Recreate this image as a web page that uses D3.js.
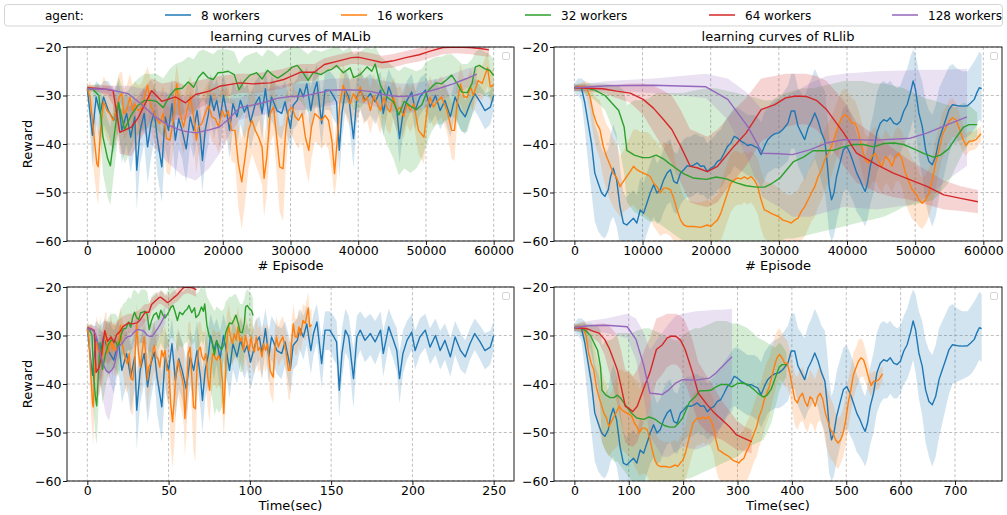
<!DOCTYPE html>
<html><head><meta charset="utf-8">
<script src="https://cdn.jsdelivr.net/npm/d3@7"></script>
<style>
body{margin:0;background:#fff;}
svg{display:block;font-family:"DejaVu Sans",sans-serif;}
</style></head><body>
<svg id="chart" width="1007" height="515"></svg>
<script>
// ---------------- DATA ----------------
const seriesNames = ["8 workers","16 workers","32 workers","64 workers","128 workers"];
const seriesColors = ["#1f77b4","#ff7f0e","#2ca02c","#d62728","#9467bd"];
const episodeTicks = [0,10000,20000,30000,40000,50000,60000];
const malibTimeTicks = [0,50,100,150,200,250];
const rllibTimeTicks = [0,100,200,300,400,500,600,700];
const rewardTicks = [-60,-50,-40,-30,-20];
// wall-clock seconds at which each run reached its last logged episode
const malibSeconds = [250,138,102,67,48];
const rllibSeconds = [749,567,390,326,290];

// tuples: [episode, mean reward, band low, band high]
const malib8 = [[0,-28.6,-29.5,-28],[750,-38.2,-45,-30],[1300,-30.3,-36,-27],[1900,-33.7,-40,-28],[2400,-30.3,-36,-27],[3100,-33.1,-38,-27],[3900,-35.1,-42,-29],[4600,-31.3,-37,-27],[5100,-37.2,-44,-31],[5800,-33.7,-40,-29],[6400,-38.6,-46,-32],[7000,-34.4,-41,-29],[7300,-45.4,-53.5,-38],[7800,-37.2,-44,-31],[8400,-33.7,-40,-28],[8900,-40.6,-48,-34],[9400,-35.8,-43,-30],[9900,-33.4,-39,-27.5],[10300,-38.6,-46,-32],[11000,-44.7,-52,-38],[11500,-34.4,-41,-29],[12000,-37.2,-44,-31],[12500,-31.7,-38,-26.5],[13000,-39.2,-47,-33],[13500,-34.8,-41,-29],[14000,-37.2,-43,-31],[14600,-41,-48,-35],[15200,-34.4,-40,-29],[15700,-37.2,-43,-31],[16200,-33.1,-39,-27],[16700,-38.6,-45,-33],[17000,-43.4,-50,-37],[17400,-37.2,-43,-31],[17900,-33.7,-40,-28],[18200,-30,-35,-25.5],[18700,-33.1,-39,-28],[19100,-31,-36,-26.5],[19600,-34.8,-41,-29],[20100,-30,-35,-25.5],[20600,-33.7,-39,-28.5],[21000,-37.2,-43,-31.5],[21500,-31.7,-37,-27],[22100,-34.4,-40,-29],[22600,-31,-36,-26.5],[23200,-33.4,-39,-28.5],[23600,-32,-37,-27.5],[24100,-35.5,-41,-30],[24800,-31.7,-37,-27],[25400,-30.3,-35,-26],[25800,-33.7,-39,-28.5],[26300,-28.6,-33,-24.5],[26800,-34.4,-40,-29],[27200,-30.3,-35,-26],[28000,-33.1,-38,-28],[28700,-33.7,-39,-28.5],[29200,-31.3,-36,-27],[30000,-36.8,-42,-31.5],[30400,-32,-37,-27.5],[31000,-31,-36,-26.5],[31400,-28.6,-33,-24.5],[31900,-30.3,-35,-26],[32400,-27.6,-32,-24],[33000,-33.1,-38,-28.5],[33400,-29.6,-34,-25.5],[33900,-27.2,-31.5,-23.5],[34600,-35.8,-41,-30.5],[35100,-28.9,-33,-25],[35800,-28.9,-33,-25],[36400,-30.3,-35,-26],[36800,-31.3,-36,-27],[37200,-41.3,-47,-35.5],[37600,-33.7,-39,-28.5],[38100,-28.9,-33.5,-24.5],[38600,-30.3,-35,-26],[39300,-38.9,-45,-33],[39800,-30.3,-35,-26],[40300,-28.9,-33,-25],[41000,-31,-35.5,-26.5],[41800,-29.6,-34,-25.5],[42500,-31.3,-36,-27],[43300,-28.9,-33,-25],[43700,-33.7,-38.5,-29],[44500,-28.2,-32,-24.5],[45200,-31,-35,-27],[45700,-33.1,-37.5,-28.5],[46100,-38.9,-44,-33.5],[46600,-33.7,-38,-29],[47200,-31,-35,-27],[47900,-29.3,-33,-25.5],[48400,-33.1,-37,-29],[49100,-30.3,-34,-26.5],[49900,-28.9,-32.5,-25.5],[50600,-32.4,-36,-28.5],[51400,-30,-34,-26.5],[52100,-33.1,-37,-29],[52800,-31,-35,-27.5],[53600,-34.4,-38.5,-30.5],[54300,-30.3,-34,-27],[55100,-33.1,-37,-29.5],[55800,-34.4,-38,-31],[56500,-31.7,-35,-28.5],[57200,-29.6,-33,-26.5],[58000,-31.3,-35,-28],[58700,-33.1,-37,-29.5],[59500,-32.4,-36,-29],[60000,-30,-33,-27]];
const malib16 = [[0,-28.6,-29.3,-28],[400,-30.3,-34,-27],[900,-37.2,-45,-30],[1400,-44,-51,-37],[1600,-44.7,-52.5,-37.5],[1950,-37.2,-44,-30],[2400,-31.3,-37,-26],[2900,-33.1,-39,-27.5],[3300,-33.7,-40,-28],[3800,-35.1,-41,-29.5],[4300,-33.1,-39,-27.5],[4700,-30.3,-36,-25.5],[5100,-29.6,-35,-25],[5400,-33.7,-39,-28.5],[5800,-33.1,-38.5,-28],[6300,-30.3,-35.5,-25.5],[6700,-33.1,-38.5,-28],[7000,-31.7,-37,-27],[7500,-33.1,-38.5,-28],[8000,-32.7,-38,-27.5],[8500,-30,-35,-25.5],[8900,-27.9,-32,-24],[9300,-31.7,-37,-26.5],[9800,-33.4,-39,-28],[10200,-34.8,-41,-29],[10700,-35.8,-42,-30],[11200,-33.7,-40,-28],[11700,-38.9,-46,-32],[12200,-39.2,-46.5,-32.5],[12700,-35.1,-41,-29.5],[13200,-27.6,-32,-23.5],[13700,-33.7,-39,-28.5],[14200,-36.5,-42,-31],[14700,-33.1,-38.5,-28],[15200,-30.3,-35,-26],[15700,-34.4,-40,-29],[16100,-39.2,-46,-33],[16400,-36.5,-42.5,-30.5],[16900,-35.8,-41,-30.5],[17400,-33.7,-39,-28.5],[17900,-32,-37,-27],[18400,-34.4,-39.5,-29.5],[18900,-34.8,-40,-29.5],[19400,-36.5,-42,-31],[19900,-33.1,-38.5,-28],[20300,-34.4,-40,-29],[20800,-33.1,-38.5,-28],[21300,-37.2,-43.5,-31],[21800,-37.2,-44,-31],[22300,-44,-53,-36],[22800,-47.8,-57.5,-39],[23300,-42.7,-52,-34.5],[23800,-37.2,-45,-30],[24300,-35.1,-42,-28.5],[24800,-37.2,-44,-30.5],[25300,-38.6,-46,-31.5],[25800,-40.6,-48.5,-33],[26100,-47.1,-55,-39.5],[26500,-42.7,-50.5,-35],[27000,-33.7,-40,-27.5],[27500,-32.4,-38,-27],[28000,-39.2,-47,-32],[28400,-44.7,-54,-36.5],[28900,-45.1,-56,-36],[29300,-37.2,-45,-30],[29700,-33.1,-39,-27.5],[30200,-32.4,-38,-27],[30700,-34.4,-40,-29],[31200,-35.1,-41,-29.5],[31700,-33.7,-39.5,-28.5],[32200,-38.6,-45,-32.5],[32700,-41.3,-48,-35],[33100,-36.5,-43,-30.5],[33600,-33.7,-39.5,-28.5],[34100,-34.4,-40,-29],[34600,-35.1,-41,-29.5],[35100,-34.1,-40,-29],[35600,-35.1,-41,-29.5],[36100,-39.2,-46,-33],[36500,-46.1,-51,-40],[36900,-39.2,-46,-32.5],[37300,-31.3,-37,-26],[37800,-27.9,-32.5,-23.5],[38300,-30.3,-35,-26],[38800,-31.7,-36.5,-27],[39300,-29.6,-34,-25.5],[39800,-31,-35.5,-26.5],[40300,-28.2,-32.5,-24],[40800,-31.3,-36,-27],[41300,-30.3,-35,-26],[41800,-33.1,-38,-28.5],[42300,-30,-34.5,-25.5],[42800,-31.7,-36,-27.5],[43300,-33.1,-38,-28.5],[43800,-30.3,-34.5,-26],[44200,-32.4,-37,-28],[44700,-33.4,-38,-29],[45200,-30.3,-34.5,-26],[45700,-33.1,-37.5,-28.5],[46200,-32.4,-37,-28],[46700,-34.4,-39,-30],[47200,-31.7,-36,-27.5],[47700,-33.1,-37.5,-28.5],[48200,-31.7,-36,-27.5],[48900,-37.2,-42,-32],[49700,-38.6,-44,-33],[50200,-32.7,-37,-28.5],[50600,-30.3,-34.5,-26],[51100,-32.4,-36.5,-28],[51600,-31.3,-35.5,-27],[52300,-30.3,-34.5,-26],[53100,-33.1,-37.5,-29],[53800,-37.2,-43,-31.5],[54200,-37.2,-43.5,-31],[54600,-31.7,-36,-27.5],[55100,-27.6,-31.5,-23.5],[55600,-30.3,-34,-26.5],[56100,-30.3,-34,-26.5],[56600,-28.2,-32,-24.5],[57000,-30,-33.5,-26.5],[57700,-26.9,-30.5,-23.5],[58300,-27.5,-31,-24],[59100,-24.3,-28,-21],[59500,-28.2,-31.5,-25],[60000,-27.8,-31,-24.5]];
const malib32 = [[0,-28.5,-29,-28],[800,-28.7,-29.8,-27.8],[1700,-30,-33.5,-27.5],[2300,-38.5,-46,-31],[3000,-43,-51,-35],[3400,-44.5,-52.5,-36.5],[4600,-31.5,-38,-26],[5500,-37,-44,-30],[6500,-34,-41,-28],[7500,-32,-38,-26.5],[8500,-31,-37,-25.5],[9500,-31,-36.5,-25.5],[10200,-31.2,-37,-25.5],[11200,-32.5,-38.5,-26.5],[12200,-30,-36,-24.5],[13000,-28.7,-34,-23.5],[14000,-28.5,-34,-23],[14900,-27.2,-33,-22],[15700,-28.3,-34,-22.5],[16400,-26.3,-32,-21],[17100,-25.2,-31,-20.5],[17800,-26.3,-32,-21],[18600,-26.7,-32.5,-21.5],[19300,-25.3,-31.5,-20.5],[20100,-25.2,-31.5,-20.5],[20800,-25,-31.5,-20.5],[21700,-25.7,-32,-21],[22400,-28.8,-35,-23.5],[23200,-27,-33.5,-22],[24000,-25.8,-32.5,-21.5],[25000,-25.3,-32,-21],[25800,-26.6,-33,-22],[26600,-24.8,-31.5,-20.5],[27400,-25.8,-32.5,-21],[28100,-26.4,-33,-22],[28800,-25.8,-32.5,-21],[29600,-25,-31.5,-20.5],[30200,-24.2,-30.5,-20],[31000,-23.8,-30.5,-19.5],[31700,-25,-31.5,-20.5],[32600,-26.9,-33.5,-21.5],[33400,-25.2,-32,-20.5],[34500,-25.7,-32.5,-21],[35400,-24.9,-31.5,-20.5],[36100,-24.6,-31.5,-20.2],[36800,-23.8,-30.5,-19.8],[37800,-25.3,-32,-20.8],[38800,-24.3,-31.2,-20],[39300,-26.3,-33,-21.5],[40300,-25.7,-32.5,-21],[41300,-24.1,-31,-20],[42000,-25,-32,-20.5],[42500,-23.5,-30.5,-19.8],[43300,-28,-36,-22],[44200,-30.3,-40,-23],[45200,-31.3,-43,-24],[46000,-34,-46.5,-25],[46800,-31.2,-45,-24],[47700,-32.2,-46,-24.5],[48600,-32.9,-45,-25],[49400,-31.9,-43,-24.5],[50100,-29.4,-40,-23],[50800,-28.3,-37.5,-22.5],[51500,-27.4,-36,-22],[52300,-27.6,-36,-22],[53100,-26.7,-35,-21.5],[53800,-25.8,-34,-21.5],[54600,-27.5,-35.5,-22.5],[55300,-29.3,-37.5,-23.5],[56100,-29.4,-37.5,-23.5],[56800,-27.5,-34,-22.5],[57300,-24.1,-30,-21],[57900,-23.8,-29.5,-20.5],[58700,-24.5,-30,-21],[59400,-24.8,-30.5,-21.5],[60000,-25.9,-31,-22.5]];
const malib64 = [[0,-28.4,-29,-28],[2000,-28.6,-29.5,-27.8],[3000,-28.8,-30,-28],[3800,-29,-32,-28],[4800,-37.6,-42,-33],[6500,-36.5,-42.5,-32],[7500,-34.6,-40,-30],[9500,-29,-35,-26.5],[11000,-31.2,-36,-27.5],[13000,-30.3,-35,-27],[14500,-31.5,-35,-28],[16000,-29.8,-33,-27],[18000,-29.1,-31.5,-26.5],[19500,-28.1,-30.5,-26],[22500,-27.4,-29.5,-25.5],[24500,-27.6,-29.5,-25.5],[27000,-27.4,-29,-25],[29000,-26.7,-28.5,-24.5],[30000,-26.1,-28,-24],[31500,-25.2,-27,-23.5],[33500,-25.2,-27,-23.5],[35000,-23.6,-25,-22.3],[37000,-22.9,-24.3,-21.6],[39000,-22.2,-23.5,-21],[40000,-22.1,-23.5,-20.8],[42000,-22.7,-24,-21.3],[43500,-23.2,-24.5,-21.8],[45000,-22.9,-24.3,-21.5],[47000,-22.2,-23.5,-20.8],[49000,-21.6,-23,-20.2],[50500,-20.9,-22.3,-19.5],[52500,-20.1,-21.5,-19],[54500,-20,-21.3,-19],[56500,-20.1,-21.5,-19],[58000,-20.3,-21.8,-19],[59300,-20.6,-22,-19.3]];
const malib128 = [[0,-28.6,-29,-28.3],[3000,-28.7,-29.5,-28],[6000,-29.6,-33,-28],[8000,-31.8,-37,-28.5],[10000,-34.4,-41,-29],[12000,-36.1,-44,-29.5],[14000,-37.3,-46.5,-30],[16000,-37.7,-47.5,-30.5],[18000,-37.1,-45,-30.5],[19500,-36.5,-42,-30.5],[21000,-34.7,-38,-30.5],[22500,-32.5,-35,-30.5],[24000,-32.1,-34.5,-29.5],[26000,-31.5,-34,-29],[28000,-30.6,-33.5,-28],[30000,-30.2,-33,-27.5],[32000,-30.1,-33,-27.5],[34000,-29.5,-32.5,-27],[36000,-28.9,-32,-26.5],[38000,-28.8,-31.5,-26.5],[40000,-28.9,-31.5,-26.5],[42000,-29.2,-32,-26.5],[44000,-29.9,-33,-27],[46000,-30.2,-33.5,-27.5],[48000,-30.1,-33.5,-27.5],[50000,-29.3,-32.5,-27],[52000,-28.5,-31,-26.5],[54000,-27.6,-30,-25.5],[56000,-26.5,-28.5,-24.5],[57500,-25.6,-27.5,-24]];

const rllib8 = [[0,-28.4,-29.5,-27.5],[540,-28.1,-30,-26.5],[1030,-28.4,-31,-26.5],[1530,-31.5,-37,-27],[2020,-35.7,-44,-29],[2510,-39.8,-50,-31],[3000,-46,-56,-36],[3500,-48.1,-58,-38],[4000,-50.1,-59,-41],[4480,-50.8,-59.5,-42],[4980,-49.4,-58,-41],[5320,-46.7,-56,-38],[5710,-45,-55,-36],[6200,-47.4,-57,-38],[6700,-52.9,-61,-45],[7190,-56.3,-62,-50],[7680,-56.7,-62,-51],[8180,-56,-62,-50],[8670,-55.3,-61,-49.5],[9160,-56.3,-62,-50.5],[9660,-53.6,-60,-47],[10150,-54.3,-60.5,-48],[10640,-52.2,-58.5,-46],[11130,-50.1,-56.5,-44],[11630,-48.4,-55,-42],[12120,-50.1,-56.5,-44],[12610,-49.4,-56,-43],[13100,-47.4,-54,-41],[13600,-46,-52.5,-39.5],[14090,-45.3,-52,-39],[14580,-47.7,-54,-41.5],[15070,-48.1,-54.5,-42],[15570,-46,-52.5,-40],[16060,-45.3,-51.5,-39],[16550,-44.5,-51,-38.5],[17040,-44.6,-51,-38.5],[17540,-44.3,-50.5,-38],[18030,-43.9,-50,-38],[18520,-44.6,-50.5,-38.5],[19010,-44.5,-50.5,-38.5],[19510,-45.7,-51.5,-40],[20000,-45,-51,-39],[20490,-44.6,-50.5,-38.5],[20990,-43.6,-49.5,-37.5],[21480,-43.2,-49,-37],[21970,-41.9,-48,-35.5],[22460,-40.5,-46.5,-34.5],[22960,-39.8,-46,-33.5],[23450,-38.4,-44.5,-32.5],[23940,-38.8,-45,-32.5],[24430,-39.4,-45.5,-33],[24930,-39.8,-46,-33.5],[25420,-40.3,-46.5,-34],[25910,-40.1,-46.5,-34],[26400,-40.5,-47,-34],[26900,-40.8,-47.5,-34.5],[27390,-42.2,-49,-35.5],[27880,-40.5,-47.5,-33.5],[28370,-39.1,-46,-32.5],[28870,-38.4,-45.5,-31.5],[29360,-37.9,-45,-31],[30000,-37.7,-45,-30.5],[30590,-37,-44.5,-29.5],[31330,-35.7,-43.5,-28],[31820,-33.2,-41,-25.5],[32320,-33.2,-41,-25.5],[32810,-36.3,-44.5,-28.5],[33300,-37.7,-46,-29.5],[33790,-39.1,-47.5,-30.5],[34290,-36.7,-45.5,-28],[34780,-35.3,-44.5,-26.5],[35270,-33.6,-43,-24.5],[35760,-35.3,-45,-26],[36260,-37.7,-48,-28],[36750,-39.4,-50,-29],[37090,-43.9,-54,-33.5],[37390,-48.8,-58.5,-39],[37730,-51.5,-60,-42.5],[38080,-50.1,-59,-41],[38470,-46.7,-56,-37.5],[38970,-43.9,-53,-35],[39460,-41.2,-50,-32.5],[39950,-40.5,-49,-32],[40440,-41.9,-50.5,-33.5],[40940,-43.9,-52,-35.5],[41430,-46,-54,-38],[41920,-47.4,-55,-39.5],[42320,-48.8,-56,-41.5],[42660,-49.8,-57,-42.5],[43000,-48.1,-55.5,-40.5],[43400,-44.6,-52.5,-36.5],[43890,-41.9,-50,-33.5],[44380,-37.7,-46,-29.5],[44880,-35.7,-44,-27.5],[45370,-35,-43,-27],[45860,-35.3,-43,-27.5],[46350,-34.6,-42,-27],[46850,-35.7,-43,-28],[47340,-36,-43,-28.5],[47830,-35.3,-42,-28],[48330,-33.2,-40,-26],[48820,-31.9,-39,-24.5],[49310,-29.4,-37,-22],[49700,-27,-35,-20.5],[50050,-28.8,-37.5,-21.5],[50540,-33.6,-43,-25],[51030,-36.3,-46.5,-27],[51530,-41.2,-52,-31],[52020,-43.6,-55,-33],[52510,-44.3,-57,-34],[53000,-42.6,-55,-32],[53500,-39.1,-51,-28.5],[53990,-37,-48,-27],[54480,-35,-45,-25.5],[54970,-32.9,-42,-24],[55470,-31.9,-40,-23.5],[56210,-32.1,-39.5,-24.5],[56950,-32.2,-39,-25],[57680,-32.1,-38.5,-25],[58180,-31.5,-38,-24],[58670,-30.8,-37,-23],[59060,-29.4,-36,-22],[59410,-28.4,-35,-21],[59750,-28.6,-35.5,-21.5]];
const rllib16 = [[0,-28.4,-29,-27.8],[1030,-28.1,-29,-27.3],[1770,-28.4,-30,-27],[2270,-30.1,-33,-27.5],[2760,-33.6,-38,-29.5],[3250,-35.7,-41,-30.5],[3740,-37,-43,-31],[4240,-40.5,-47,-34],[4730,-42.6,-49.5,-36],[5220,-44.3,-51.5,-37],[5710,-46,-53,-39],[6210,-47,-54,-40],[6700,-48.8,-55,-42.5],[7190,-47.7,-54,-41.5],[7680,-46.7,-53.5,-40],[8180,-45.7,-53,-38.5],[8670,-44.6,-52.5,-37],[9160,-45.3,-53.5,-37],[9660,-45.7,-54,-37.5],[10150,-46,-54.5,-37.5],[10640,-46.3,-55,-37.5],[11130,-46.7,-55.5,-38],[11630,-48.1,-57,-39],[12120,-48.8,-58,-39.5],[12610,-50.1,-59,-41],[13100,-49.1,-58.5,-39.5],[13600,-49.1,-58.5,-40],[14090,-49.4,-59,-40],[14580,-51.2,-60,-42],[15070,-53.6,-61,-46],[15570,-55.7,-62,-49],[16060,-56.7,-62,-51],[16550,-57,-62,-51.5],[17540,-57,-62,-52],[18520,-57.2,-62,-52],[19510,-56.7,-62,-51.5],[20000,-57,-62,-52],[20490,-56.3,-61.5,-51],[20990,-55.7,-61,-50.5],[21480,-54.3,-60,-48.5],[21970,-52.2,-58,-46],[22460,-50.1,-56,-44],[22960,-48.1,-54,-42],[23450,-47.4,-53,-41.5],[23940,-47,-52.5,-41.5],[24430,-47.2,-52.5,-42],[24930,-46.8,-52,-41.5],[25420,-47.2,-52.5,-42],[25910,-46.7,-52,-41.5],[26400,-47.4,-53,-42],[26900,-48.8,-54.5,-43],[27390,-51.5,-57.5,-45.5],[27880,-53.6,-59.5,-47.5],[28370,-53.9,-60,-48],[28870,-54.3,-60.5,-48],[29360,-54.6,-61,-48.5],[30000,-55,-61,-49],[30590,-55.7,-61.5,-50],[31330,-56,-61.5,-50.5],[31820,-56.3,-62,-50.5],[32320,-55.7,-61.5,-50],[32810,-55.3,-61,-49.5],[33300,-53.9,-60,-48],[33790,-52.9,-59,-47],[34290,-51.5,-57.5,-45.5],[34780,-50.1,-56,-44],[35270,-48.8,-55,-42.5],[35760,-46.7,-53,-40.5],[36260,-45.3,-51.5,-39],[36750,-43.2,-49.5,-37],[37240,-41.9,-48,-35.5],[37730,-40.5,-46.5,-34.5],[38230,-38.4,-44,-32.5],[38720,-36.3,-42,-30.5],[39210,-34.6,-40,-29],[39700,-33.9,-39,-28.5],[40200,-34.6,-39.5,-29.5],[40690,-35.7,-40.5,-30.5],[41180,-35.7,-40.5,-31],[41670,-37.7,-42.5,-33],[42170,-40.5,-45.5,-35.5],[42660,-43.2,-48.5,-38],[43150,-43.9,-49.5,-38.5],[43640,-42.6,-48,-37],[44140,-41.9,-47.5,-36.5],[44630,-43.6,-49,-38],[45120,-44.6,-50,-39],[45610,-42.6,-48,-37],[46110,-43.2,-48.5,-38],[46600,-44.6,-50,-39],[47090,-42.6,-48,-37],[47590,-41.9,-47.5,-36.5],[48080,-43.2,-49,-37.5],[48570,-46,-52,-40],[49060,-47.7,-54,-41.5],[49560,-49.4,-55.5,-43],[50050,-50.1,-56,-44],[50540,-51.5,-57,-46],[51030,-52.2,-57.5,-47],[51530,-51.5,-56.5,-46.5],[52020,-50.1,-55,-45],[52510,-47.4,-52.5,-42.5],[53000,-43.9,-49,-39],[53500,-41.2,-46,-36.5],[53990,-38.1,-43,-33.5],[54480,-36.7,-41,-32.5],[54970,-35.3,-39.5,-31],[55470,-34.6,-38.5,-30.5],[55960,-35,-38.5,-31.5],[56460,-36.7,-40,-33.5],[56950,-38.8,-41.5,-36],[57440,-40.3,-42.5,-38],[57930,-39.4,-41.5,-37.3],[58420,-39.4,-41.3,-37.5],[58920,-39.1,-41,-37.2],[59410,-38.3,-40,-36.6],[59660,-37.9,-39.5,-36.3]];
const rllib32 = [[0,-28.4,-29,-27.8],[1500,-28.4,-29.5,-27.5],[3000,-28.9,-31,-27.5],[4500,-30,-33,-27.5],[6500,-33.1,-40,-28],[7300,-36.5,-46,-29],[7700,-41.3,-52,-32],[8800,-42.3,-54,-31],[10000,-42.8,-55,-31],[11000,-42.8,-56,-30.5],[12000,-42.3,-56,-29.5],[13000,-43,-57,-29.5],[14000,-44.1,-58,-29.5],[15000,-45.1,-59,-29.5],[16000,-46.1,-60,-29.5],[17400,-47,-60,-29],[19400,-47.3,-60,-28.5],[20800,-46.8,-60,-28.5],[22300,-47.2,-60,-29],[23800,-48,-60,-29.5],[25200,-48.6,-60,-30],[26700,-48.9,-60,-30.5],[27900,-48.9,-60,-31],[28900,-48.2,-60,-31],[30100,-47.1,-60,-30],[31100,-45.4,-59.5,-29.5],[32100,-43.7,-59.5,-29],[33600,-42.7,-59,-28.5],[35000,-41.4,-58.5,-28.5],[36500,-41.4,-58,-28],[38000,-41.3,-57.5,-27.5],[39500,-40.6,-57,-27],[40900,-40.1,-56.5,-27],[42400,-40.1,-56,-27],[43900,-40.6,-55.5,-27.5],[45400,-39.9,-55,-27.5],[46900,-39.8,-54,-28],[48300,-40.1,-53,-28.5],[49800,-41,-52.5,-29.5],[51300,-42,-52,-30.5],[52700,-42.7,-51.5,-31],[53700,-42.3,-50,-31.5],[54900,-41,-48,-32],[55900,-38.9,-45,-32.5],[57100,-36.5,-41.5,-31.5],[57900,-36,-40,-32],[59100,-36,-38.5,-33.5]];
const rllib64 = [[0,-28.4,-29,-27.9],[4200,-28.6,-29.5,-27.8],[6200,-29.1,-30.5,-27.8],[8200,-29.5,-31.5,-27.5],[10100,-30.8,-34,-27.5],[11600,-32.6,-37.5,-28],[13100,-35,-41,-29],[14300,-37,-44,-30],[15600,-40.5,-48,-33],[17000,-44.6,-52,-37],[18000,-44.9,-52.5,-37.5],[19500,-45.7,-53,-38.5],[21000,-44.6,-52,-37],[22000,-42.9,-50,-35.5],[23400,-40.5,-47.5,-33],[25200,-37.7,-44.5,-30.5],[27400,-32.9,-39.5,-26.5],[29400,-31.9,-38,-26],[31000,-30.5,-36.5,-25.5],[32500,-30.1,-36,-25.5],[34000,-30.2,-36,-25.5],[35500,-31,-37,-26],[37000,-32.9,-39.5,-27],[39500,-37.7,-44.5,-31],[41400,-41.9,-48,-35.5],[44400,-44.3,-50,-38.5],[46800,-46,-51,-41],[49300,-47.4,-51.5,-43.5],[51800,-48.8,-52.5,-45.5],[54200,-50.5,-53.5,-47.5],[56700,-51.2,-53.8,-48.7],[59200,-51.9,-54.3,-49.5]];
const rllib128 = [[0,-28.4,-29,-27.8],[5000,-28,-29,-27],[11600,-27.9,-29.5,-26.5],[19300,-28.2,-30.5,-25.5],[22500,-30.8,-35,-26.5],[25400,-36.3,-43,-29.5],[27600,-41.9,-51,-33],[30000,-42,-53,-31],[32000,-42.2,-55,-29.5],[34500,-41.2,-55,-27.5],[37000,-39.8,-54,-26],[39500,-39.1,-53,-25.5],[44400,-39.2,-53.5,-25],[49300,-38.8,-52.5,-24.8],[51800,-37.7,-51,-24.7],[54200,-36.3,-48,-24.7],[57600,-34.4,-44.5,-24.5]];

// ---------------- LAYOUT ----------------
const svg = d3.select("#chart");
const malibRuns = [malib8, malib16, malib32, malib64, malib128];
const rllibRuns = [rllib8, rllib16, rllib32, rllib64, rllib128];

const panels = [
  {x0:67, x1:514, y0:47, y1:241, runs:malibRuns, secs:null, ticks:episodeTicks, title:"learning curves of MALib", xlabel:"# Episode", ylabel:true},
  {x0:554, x1:1002, y0:47, y1:241, runs:rllibRuns, secs:null, ticks:episodeTicks, title:"learning curves of RLlib", xlabel:"# Episode", ylabel:false},
  {x0:67, x1:514, y0:287, y1:481, runs:malibRuns, secs:malibSeconds, ticks:malibTimeTicks, title:null, xlabel:"Time(sec)", ylabel:true},
  {x0:554, x1:1002, y0:287, y1:481, runs:rllibRuns, secs:rllibSeconds, ticks:rllibTimeTicks, title:null, xlabel:"Time(sec)", ylabel:false}
];

const fmt = d => d < 0 ? "\u2212" + Math.abs(d) : String(d);

panels.forEach((p, pi) => {
  // x values per run (episode or converted to seconds)
  const runs = p.runs.map((run, i) => {
    const last = run[run.length - 1][0];
    return run.map(r => ({x: p.secs ? r[0] / last * p.secs[i] : r[0], y: r[1], lo: r[2], hi: r[3]}));
  });
  const xmax = d3.max(runs, r => d3.max(r, d => d.x));
  const pad = xmax * 0.05;
  const x = d3.scaleLinear().domain([-pad, xmax + pad]).range([p.x0, p.x1]);
  const y = d3.scaleLinear().domain([-60, -20]).range([p.y1, p.y0]);
  const g = svg.append("g");

  // grid
  g.append("g").selectAll("line").data(p.ticks).join("line")
    .attr("x1", d => x(d)).attr("x2", d => x(d)).attr("y1", p.y0).attr("y2", p.y1)
    .attr("stroke", "#b0b0b0").attr("stroke-width", 0.8).attr("stroke-dasharray", "3,2.2");
  g.append("g").selectAll("line").data(rewardTicks).join("line")
    .attr("x1", p.x0).attr("x2", p.x1).attr("y1", d => y(d)).attr("y2", d => y(d))
    .attr("stroke", "#b0b0b0").attr("stroke-width", 0.8).attr("stroke-dasharray", "3,2.2");

  const clipId = "clip" + pi;
  svg.append("clipPath").attr("id", clipId).append("rect")
    .attr("x", p.x0).attr("y", p.y0).attr("width", p.x1 - p.x0).attr("height", p.y1 - p.y0);
  const plot = g.append("g").attr("clip-path", `url(#${clipId})`);

  const area = d3.area().x(d => x(d.x)).y0(d => y(d.lo)).y1(d => y(d.hi));
  const line = d3.line().x(d => x(d.x)).y(d => y(d.y));
  runs.forEach((run, i) => {
    plot.append("path").datum(run).attr("d", area)
      .attr("fill", seriesColors[i]).attr("fill-opacity", 0.2).attr("stroke", "none");
  });
  runs.forEach((run, i) => {
    plot.append("path").datum(run).attr("d", line)
      .attr("fill", "none").attr("stroke", seriesColors[i]).attr("stroke-width", 1.4)
      .attr("stroke-linejoin", "round");
  });

  // frame
  g.append("rect").attr("x", p.x0).attr("y", p.y0).attr("width", p.x1 - p.x0).attr("height", p.y1 - p.y0)
    .attr("fill", "none").attr("stroke", "#000").attr("stroke-width", 0.9);

  // axes
  const xa = g.append("g").attr("transform", `translate(0,${p.y1})`)
    .call(d3.axisBottom(x).tickValues(p.ticks).tickFormat(fmt).tickSize(4).tickPadding(1.5).tickSizeOuter(0));
  const ya = g.append("g").attr("transform", `translate(${p.x0},0)`)
    .call(d3.axisLeft(y).tickValues(rewardTicks).tickFormat(fmt).tickSize(4).tickPadding(1.5).tickSizeOuter(0));
  [xa, ya].forEach(a => {
    a.select(".domain").remove();
    a.selectAll("text").attr("font-size", 12.5).attr("fill", "#000").attr("font-family", "DejaVu Sans");
    a.selectAll("line").attr("stroke", "#000").attr("stroke-width", 0.9);
  });

  // empty in-axes legend box
  g.append("rect").attr("x", p.x1 - 11.5).attr("y", p.y0 + 5.5).attr("width", 7).attr("height", 7)
    .attr("rx", 1.5).attr("fill", "#fff").attr("stroke", "#cccccc").attr("stroke-width", 0.8);

  if (p.title) {
    g.append("text").attr("x", (p.x0 + p.x1) / 2).attr("y", p.y0 - 6)
      .attr("text-anchor", "middle").attr("font-size", 13).text(p.title);
  }
  g.append("text").attr("x", (p.x0 + p.x1) / 2).attr("y", p.y1 + 29)
    .attr("text-anchor", "middle").attr("font-size", 13).text(p.xlabel);
  if (p.ylabel) {
    g.append("text").attr("transform", `translate(32,${(p.y0 + p.y1) / 2}) rotate(-90)`)
      .attr("text-anchor", "middle").attr("font-size", 13).text("Reward");
  }
});

// top legend
const lg = svg.append("g");
lg.append("rect").attr("x", 4.5).attr("y", 4.5).attr("width", 998).attr("height", 21.5).attr("rx", 3)
  .attr("fill", "#fff").attr("stroke", "#d0d0d0").attr("stroke-width", 0.9);
lg.append("text").attr("x", 45).attr("y", 19.5).attr("font-size", 12).text("agent:");
const legendX = [165, 341, 525, 709, 892];
seriesNames.forEach((n, i) => {
  lg.append("line").attr("x1", legendX[i]).attr("x2", legendX[i] + 26).attr("y1", 15).attr("y2", 15)
    .attr("stroke", seriesColors[i]).attr("stroke-width", 1.5);
  lg.append("text").attr("x", legendX[i] + 36).attr("y", 19.5).attr("font-size", 12).text(n);
});
</script>
</body></html>
